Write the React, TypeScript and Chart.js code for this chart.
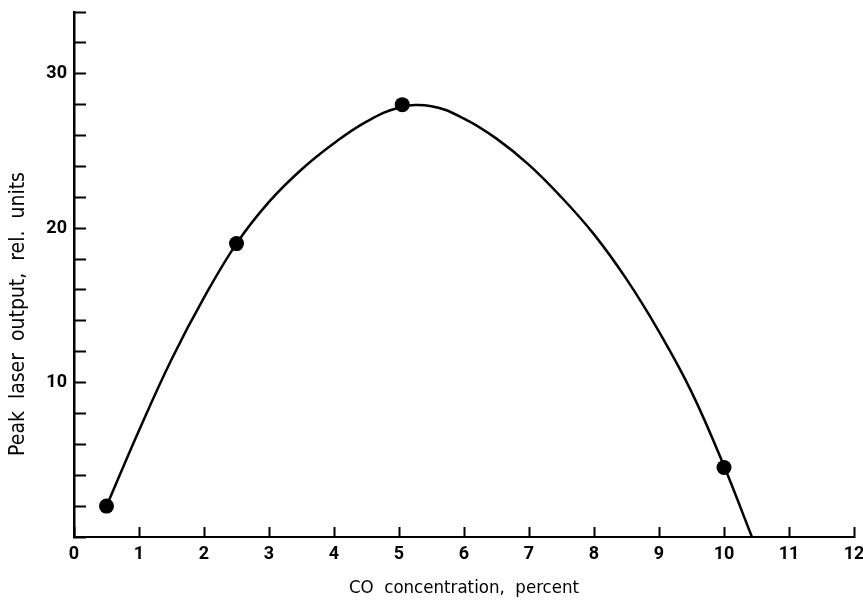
import React, { useEffect, useRef } from 'react';
import { Chart, registerables } from 'chart.js';

Chart.register(...registerables);

// Measured points
const measuredX = [0.5, 2.5, 5.05, 10.0];
const measuredY = [2.0, 19.0, 28.0, 4.5];

// Smooth fitted curve
const curveX = [0.5, 1.0, 1.5, 2.0, 2.5, 3.0, 3.5, 4.0, 4.5, 5.0, 5.5, 6.0, 6.5, 7.0, 7.5, 8.0, 8.5, 9.0, 9.5, 10.0, 10.43];
const curveY = [2.0, 6.9, 11.5, 15.5, 19.0, 21.7, 23.8, 25.5, 26.9, 27.8, 27.9, 27.1, 25.8, 24.1, 22.0, 19.6, 16.7, 13.3, 9.4, 4.6, 0];

// Axis settings
const xMin = 0;
const xMax = 12;
const yMin = 0;
const yMax = 34;
const yLabeledTicks = [10, 20, 30];
const xTitle = 'CO  concentration,  percent';
const yTitle = 'Peak  laser  output,  rel.  units';

const tickFont = { family: 'Roboto, "DejaVu Sans Condensed", sans-serif', size: 18, weight: 'bold' as const };
const titleFamily = '"DejaVu Sans Condensed", sans-serif';

const yTitlePlugin = {
  id: 'yTitlePlugin',
  afterDraw(chart: any) {
    const ctx = chart.ctx;
    ctx.save();
    ctx.font = `21px ${titleFamily}`;
    ctx.fillStyle = '#000';
    ctx.textAlign = 'center';
    ctx.textBaseline = 'middle';
    ctx.translate(19, 314);
    ctx.rotate(-Math.PI / 2);
    ctx.fillText(yTitle, 0, 0);
    ctx.restore();
  },
};

export default function App() {
  const ref = useRef<HTMLCanvasElement | null>(null);

  useEffect(() => {
    if (!ref.current) return;
    const chart = new Chart(ref.current, {
      type: 'scatter',
      data: {
        datasets: [
          {
            label: 'curve',
            data: curveX.map((x, i) => ({ x, y: curveY[i] })),
            showLine: true,
            borderColor: '#000',
            borderWidth: 2.5,
            pointRadius: 0,
            tension: 0.4,
            fill: false,
          },
          {
            label: 'measured',
            data: measuredX.map((x, i) => ({ x, y: measuredY[i] })),
            showLine: false,
            pointRadius: 7.5,
            pointBackgroundColor: '#000',
            pointBorderColor: '#000',
            pointBorderWidth: 0,
          },
        ],
      },
      options: {
        animation: false,
        responsive: false,
        layout: { padding: { top: 12, right: 9, left: 0, bottom: 0 } },
        plugins: { legend: { display: false }, tooltip: { enabled: false } },
        scales: {
          x: {
            type: 'linear',
            position: 'bottom',
            min: xMin,
            max: xMax,
            ticks: {
              stepSize: 1,
              padding: 17,
              color: '#000',
              font: tickFont,
              maxRotation: 0,
              autoSkip: false,
            },
            grid: { drawOnChartArea: false, tickLength: -10, tickWidth: 2, tickColor: '#000' },
            border: { color: '#000', width: 2 },
            title: {
              display: true,
              text: xTitle,
              color: '#000',
              font: { family: titleFamily, size: 18.5 },
              padding: { top: 0, bottom: 2 },
            },
            afterFit: (s: any) => {
              s.height = 64;
              s.paddingLeft = 0;
              s.paddingRight = 0;
            },
          },
          y: {
            type: 'linear',
            position: 'left',
            min: yMin,
            max: yMax,
            ticks: {
              stepSize: 2,
              padding: 19,
              color: '#000',
              font: tickFont,
              autoSkip: false,
              callback: (v: any) => (yLabeledTicks.includes(Number(v)) ? String(v) : ''),
            },
            grid: { drawOnChartArea: false, tickLength: -12, tickWidth: 2, tickColor: '#000' },
            border: { color: '#000', width: 2.5 },
            afterFit: (s: any) => {
              s.width = 74;
              s.paddingTop = 0;
              s.paddingBottom = 0;
            },
          },
        },
      },
      plugins: [yTitlePlugin],
    } as any);
    return () => chart.destroy();
  }, []);

  return (
    <canvas
      ref={ref}
      width={863}
      height={601}
      style={{ position: 'fixed', left: 0, top: 0, display: 'block', background: '#fff' }}
    />
  );
}
